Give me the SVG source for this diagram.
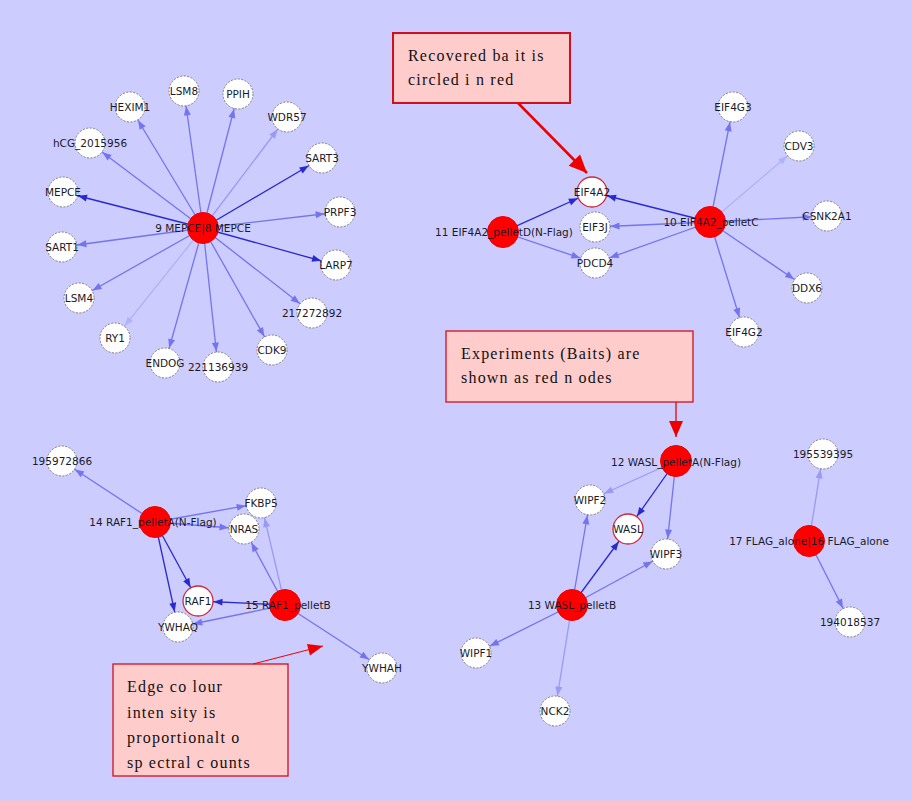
<svg xmlns="http://www.w3.org/2000/svg" width="912" height="801" viewBox="0 0 912 801">
<style>
.bg{fill:#ccccfe}
.e{fill:none;stroke-width:1.3}
.d{stroke:#2a2acc;marker-end:url(#ad)}
.m{stroke:#7474ee;marker-end:url(#am)}
.l{stroke:#9a9af2;marker-end:url(#al)}
.vl{stroke:#b2b2f6;marker-end:url(#avl)}
.n{fill:#fff;stroke:#808080;stroke-width:1;stroke-dasharray:2 1.5}
.rec{fill:#fff;stroke:#cc2a3a;stroke-width:1.3}
.bait{fill:#f00;stroke:#e00;stroke-width:1}
.t{font-family:"DejaVu Sans",Verdana,sans-serif;font-size:10.5px;fill:#1a1a2a;text-anchor:middle;dominant-baseline:central}
.box{fill:#ffcccc;stroke:#d01020;stroke-width:1.3}
.ct{font-family:"Liberation Serif","Times New Roman",serif;font-size:16px;fill:#111;letter-spacing:1.2px}
.ra{stroke:#ee0000;fill:none}
</style>
<defs>
<marker id="ad" markerUnits="userSpaceOnUse" markerWidth="10" markerHeight="8" refX="24.5" refY="3.5" orient="auto" overflow="visible"><path d="M0,0 L9,3.5 L0,7 z" fill="#2a2acc"/></marker>
<marker id="am" markerUnits="userSpaceOnUse" markerWidth="10" markerHeight="8" refX="24.5" refY="3.5" orient="auto" overflow="visible"><path d="M0,0 L9,3.5 L0,7 z" fill="#7474ee"/></marker>
<marker id="al" markerUnits="userSpaceOnUse" markerWidth="10" markerHeight="8" refX="24.5" refY="3.5" orient="auto" overflow="visible"><path d="M0,0 L9,3.5 L0,7 z" fill="#9a9af2"/></marker>
<marker id="avl" markerUnits="userSpaceOnUse" markerWidth="10" markerHeight="8" refX="24.5" refY="3.5" orient="auto" overflow="visible"><path d="M0,0 L9,3.5 L0,7 z" fill="#b2b2f6"/></marker>
<marker id="r1" markerUnits="userSpaceOnUse" markerWidth="18" markerHeight="16" refX="18" refY="8" orient="auto" overflow="visible"><path d="M0,0 L18,8 L0,16 z" fill="#ee0000"/></marker>
<marker id="r2" markerUnits="userSpaceOnUse" markerWidth="16" markerHeight="14" refX="16" refY="7" orient="auto" overflow="visible"><path d="M0,0 L16,7 L0,14 z" fill="#ee0000"/></marker>
<marker id="r3" markerUnits="userSpaceOnUse" markerWidth="15" markerHeight="12" refX="15" refY="6" orient="auto" overflow="visible"><path d="M0,0 L15,6 L0,12 z" fill="#ee0000"/></marker>
</defs>
<rect class="bg" x="0" y="0" width="912" height="801"/>

<g id="connectors">
<!-- MEPCE cluster -->
<line class="e m" x1="203" y1="228" x2="130" y2="107"/>
<line class="e m" x1="203" y1="228" x2="184" y2="91"/>
<line class="e m" x1="203" y1="228" x2="238" y2="94"/>
<line class="e l" x1="203" y1="228" x2="287" y2="117"/>
<line class="e d" x1="203" y1="228" x2="322" y2="158"/>
<line class="e m" x1="203" y1="228" x2="340" y2="212"/>
<line class="e d" x1="203" y1="228" x2="336" y2="265"/>
<line class="e m" x1="203" y1="228" x2="312" y2="313"/>
<line class="e m" x1="203" y1="228" x2="272" y2="350"/>
<line class="e m" x1="203" y1="228" x2="218" y2="367"/>
<line class="e m" x1="203" y1="228" x2="165" y2="363"/>
<line class="e vl" x1="203" y1="228" x2="115" y2="338"/>
<line class="e m" x1="203" y1="228" x2="79" y2="298"/>
<line class="e m" x1="203" y1="228" x2="62" y2="247"/>
<line class="e d" x1="203" y1="228" x2="63" y2="192"/>
<line class="e m" x1="203" y1="228" x2="90" y2="143"/>
<!-- EIF4A2 cluster -->
<line class="e d" x1="503" y1="232" x2="592" y2="192"/>
<line class="e m" x1="503" y1="232" x2="595" y2="263"/>
<line class="e d" x1="710" y1="222" x2="592" y2="192"/>
<line class="e m" x1="710" y1="222" x2="595" y2="227"/>
<line class="e m" x1="710" y1="222" x2="595" y2="263"/>
<line class="e m" x1="710" y1="222" x2="733" y2="107"/>
<line class="e vl" x1="710" y1="222" x2="799" y2="146"/>
<line class="e m" x1="710" y1="222" x2="827" y2="216"/>
<line class="e m" x1="710" y1="222" x2="807" y2="288"/>
<line class="e m" x1="710" y1="222" x2="744" y2="332"/>
<!-- WASL cluster -->
<line class="e l" x1="676" y1="461" x2="590" y2="500"/>
<line class="e d" x1="676" y1="461" x2="628" y2="529"/>
<line class="e m" x1="676" y1="461" x2="666" y2="554"/>
<line class="e m" x1="572" y1="605" x2="590" y2="500"/>
<line class="e d" x1="572" y1="605" x2="628" y2="529"/>
<line class="e m" x1="572" y1="605" x2="666" y2="554"/>
<line class="e m" x1="572" y1="605" x2="476" y2="653"/>
<line class="e l" x1="572" y1="605" x2="555" y2="711"/>
<!-- FLAG -->
<line class="e l" x1="809" y1="541" x2="823" y2="454"/>
<line class="e m" x1="809" y1="541" x2="850" y2="622"/>
<!-- RAF1 cluster -->
<line class="e m" x1="155" y1="522" x2="62" y2="461"/>
<line class="e m" x1="155" y1="522" x2="261" y2="503"/>
<line class="e m" x1="155" y1="522" x2="244" y2="529"/>
<line class="e d" x1="155" y1="522" x2="198" y2="601"/>
<line class="e d" x1="155" y1="522" x2="178" y2="627"/>
<line class="e d" x1="285" y1="605" x2="198" y2="601"/>
<line class="e m" x1="285" y1="605" x2="178" y2="627"/>
<line class="e m" x1="285" y1="605" x2="244" y2="529"/>
<line class="e l" x1="285" y1="605" x2="261" y2="503"/>
<line class="e m" x1="285" y1="605" x2="382" y2="668"/>
</g>

<!-- MEPCE cluster nodes -->
<g id="n-HEXIM1"><circle class="n" cx="130" cy="107" r="15"/><text class="t" x="130" y="107">HEXIM1</text></g>
<g id="n-LSM8"><circle class="n" cx="184" cy="91" r="15"/><text class="t" x="184" y="91">LSM8</text></g>
<g id="n-PPIH"><circle class="n" cx="238" cy="94" r="15"/><text class="t" x="238" y="94">PPIH</text></g>
<g id="n-WDR57"><circle class="n" cx="287" cy="117" r="15"/><text class="t" x="287" y="117">WDR57</text></g>
<g id="n-SART3"><circle class="n" cx="322" cy="158" r="15"/><text class="t" x="322" y="158">SART3</text></g>
<g id="n-PRPF3"><circle class="n" cx="340" cy="212" r="15"/><text class="t" x="340" y="212">PRPF3</text></g>
<g id="n-LARP7"><circle class="n" cx="336" cy="265" r="15"/><text class="t" x="336" y="265">LARP7</text></g>
<g id="n-217272892"><circle class="n" cx="312" cy="313" r="15"/><text class="t" x="312" y="313">217272892</text></g>
<g id="n-CDK9"><circle class="n" cx="272" cy="350" r="15"/><text class="t" x="272" y="350">CDK9</text></g>
<g id="n-221136939"><circle class="n" cx="218" cy="367" r="15"/><text class="t" x="218" y="367">221136939</text></g>
<g id="n-ENDOG"><circle class="n" cx="165" cy="363" r="15"/><text class="t" x="165" y="363">ENDOG</text></g>
<g id="n-RY1"><circle class="n" cx="115" cy="338" r="15"/><text class="t" x="115" y="338">RY1</text></g>
<g id="n-LSM4"><circle class="n" cx="79" cy="298" r="15"/><text class="t" x="79" y="298">LSM4</text></g>
<g id="n-SART1"><circle class="n" cx="62" cy="247" r="15"/><text class="t" x="62" y="247">SART1</text></g>
<g id="n-MEPCE"><circle class="n" cx="63" cy="192" r="15"/><text class="t" x="63" y="192">MEPCE</text></g>
<g id="n-hCG_2015956"><circle class="n" cx="90" cy="143" r="15"/><text class="t" x="90" y="143">hCG_2015956</text></g>
<g id="n-9-MEPCE"><circle class="bait" cx="203" cy="228" r="15.5"/><text class="t" x="203" y="228">9 MEPCE|8 MEPCE</text></g>

<!-- EIF4A2 cluster nodes -->
<g id="n-EIF4A2"><circle class="rec" cx="592" cy="192" r="15"/><text class="t" x="592" y="192">EIF4A2</text></g>
<g id="n-EIF3J"><circle class="n" cx="595" cy="227" r="15"/><text class="t" x="595" y="227">EIF3J</text></g>
<g id="n-PDCD4"><circle class="n" cx="595" cy="263" r="15"/><text class="t" x="595" y="263">PDCD4</text></g>
<g id="n-EIF4G3"><circle class="n" cx="733" cy="107" r="15"/><text class="t" x="733" y="107">EIF4G3</text></g>
<g id="n-CDV3"><circle class="n" cx="799" cy="146" r="15"/><text class="t" x="799" y="146">CDV3</text></g>
<g id="n-CSNK2A1"><circle class="n" cx="827" cy="216" r="15"/><text class="t" x="827" y="216">CSNK2A1</text></g>
<g id="n-DDX6"><circle class="n" cx="807" cy="288" r="15"/><text class="t" x="807" y="288">DDX6</text></g>
<g id="n-EIF4G2"><circle class="n" cx="744" cy="332" r="15"/><text class="t" x="744" y="332">EIF4G2</text></g>
<g id="n-11-EIF4A2"><circle class="bait" cx="503" cy="232" r="15.5"/><text class="t" x="504" y="232">11 EIF4A2_pelletD(N-Flag)</text></g>
<g id="n-10-EIF4A2"><circle class="bait" cx="710" cy="222" r="15.5"/><text class="t" x="711" y="222">10 EIF4A2_pelletC</text></g>

<!-- WASL cluster nodes -->
<g id="n-WIPF2"><circle class="n" cx="590" cy="500" r="15"/><text class="t" x="590" y="500">WIPF2</text></g>
<g id="n-WASL"><circle class="rec" cx="628" cy="529" r="15"/><text class="t" x="628" y="529">WASL</text></g>
<g id="n-WIPF3"><circle class="n" cx="666" cy="554" r="15"/><text class="t" x="666" y="554">WIPF3</text></g>
<g id="n-WIPF1"><circle class="n" cx="476" cy="653" r="15"/><text class="t" x="476" y="653">WIPF1</text></g>
<g id="n-NCK2"><circle class="n" cx="555" cy="711" r="15"/><text class="t" x="555" y="711">NCK2</text></g>
<g id="n-12-WASL"><circle class="bait" cx="676" cy="461" r="15.5"/><text class="t" x="676" y="462">12 WASL_pelletA(N-Flag)</text></g>
<g id="n-13-WASL"><circle class="bait" cx="572" cy="605" r="15.5"/><text class="t" x="572" y="605">13 WASL_pelletB</text></g>

<!-- FLAG nodes -->
<g id="n-195539395"><circle class="n" cx="823" cy="454" r="15"/><text class="t" x="823" y="454">195539395</text></g>
<g id="n-194018537"><circle class="n" cx="850" cy="622" r="15"/><text class="t" x="850" y="622">194018537</text></g>
<g id="n-17-FLAG"><circle class="bait" cx="809" cy="541" r="15.5"/><text class="t" x="809" y="541">17 FLAG_alone|16 FLAG_alone</text></g>

<!-- RAF1 cluster nodes -->
<g id="n-195972866"><circle class="n" cx="62" cy="461" r="15"/><text class="t" x="62" y="461">195972866</text></g>
<g id="n-FKBP5"><circle class="n" cx="261" cy="503" r="15"/><text class="t" x="261" y="503">FKBP5</text></g>
<g id="n-NRAS"><circle class="n" cx="244" cy="529" r="15"/><text class="t" x="244" y="529">NRAS</text></g>
<g id="n-YWHAQ"><circle class="n" cx="178" cy="627" r="15"/><text class="t" x="178" y="627">YWHAQ</text></g>
<g id="n-RAF1"><circle class="rec" cx="198" cy="601" r="15"/><text class="t" x="198" y="601">RAF1</text></g>
<g id="n-YWHAH"><circle class="n" cx="382" cy="668" r="15"/><text class="t" x="382" y="668">YWHAH</text></g>
<g id="n-14-RAF1"><circle class="bait" cx="155" cy="522" r="15.5"/><text class="t" x="153" y="522">14 RAF1_pelletA(N-Flag)</text></g>
<g id="n-15-RAF1"><circle class="bait" cx="285" cy="605" r="15.5"/><text class="t" x="288" y="605">15 RAF1_pelletB</text></g>

<!-- Callouts -->
<g id="callout-recovered">
<rect class="box" x="393" y="33" width="177" height="70" style="stroke-width:2"/>
<text class="ct" x="408" y="61">Recovered ba it is</text>
<text class="ct" x="408" y="85">circled i n red</text>
<line class="ra" x1="518" y1="103" x2="587" y2="173" style="stroke-width:2.5" marker-end="url(#r1)"/>
</g>
<g id="callout-baits">
<rect class="box" x="446" y="331" width="247" height="71"/>
<text class="ct" x="461" y="359">Experiments (Baits) are</text>
<text class="ct" x="461" y="383">shown as red n odes</text>
<line class="ra" x1="676" y1="402" x2="676" y2="437" style="stroke-width:1.3" marker-end="url(#r2)"/>
</g>
<g id="callout-edge">
<rect class="box" x="113" y="664" width="175" height="112"/>
<text class="ct" x="127" y="692">Edge co lour</text>
<text class="ct" x="127" y="718">inten sity is</text>
<text class="ct" x="127" y="743">proportionalt o</text>
<text class="ct" x="127" y="768">sp ectral c ounts</text>
<line class="ra" x1="253" y1="664" x2="323" y2="646" style="stroke-width:1" marker-end="url(#r3)"/>
</g>
</svg>
